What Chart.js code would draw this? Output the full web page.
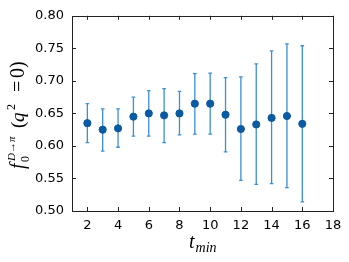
<!DOCTYPE html>
<html>
<head>
<meta charset="utf-8">
<script src="https://cdn.jsdelivr.net/npm/chart.js@4"></script>
<style>
  html, body { margin: 0; padding: 0; background: #fff; }
  #wrap { width: 349px; height: 262px; }
</style>
</head>
<body>
<div id="wrap"><canvas id="chart"></canvas></div>
<script>
// data
var tmin = [2, 3, 4, 5, 6, 7, 8, 9, 10, 11, 12, 13, 14, 15, 16];
var f0 = [0.635, 0.625, 0.627, 0.645, 0.650, 0.647, 0.650, 0.665, 0.665, 0.648, 0.626, 0.633, 0.643, 0.646, 0.634];
var errLow = [0.605, 0.592, 0.598, 0.615, 0.615, 0.605, 0.617, 0.618, 0.618, 0.591, 0.547, 0.541, 0.542, 0.536, 0.514];
var errHigh = [0.665, 0.657, 0.657, 0.675, 0.685, 0.688, 0.684, 0.711, 0.712, 0.705, 0.706, 0.726, 0.746, 0.757, 0.754];
var xTicks = [2, 4, 6, 8, 10, 12, 14, 16, 18];
var yTicks = [0.50, 0.55, 0.60, 0.65, 0.70, 0.75, 0.80];

var points = tmin.map(function (t, i) { return { x: t, y: f0[i] }; });

// error bars, drawn under the dots
var errorBars = {
    id: 'errorBars',
    beforeDatasetsDraw: function (chart) {
        var ctx = chart.ctx;
        var xs = chart.scales.x, ys = chart.scales.y;
        ctx.save();
        ctx.strokeStyle = '#3b8fd4';
        ctx.lineWidth = 1.3;
        for (var i = 0; i < tmin.length; i++) {
            var px = xs.getPixelForValue(tmin[i]);
            var lo = ys.getPixelForValue(errLow[i]);
            var hi = ys.getPixelForValue(errHigh[i]);
            ctx.beginPath();
            ctx.moveTo(px, lo); ctx.lineTo(px, hi);
            ctx.moveTo(px - 1.8, lo); ctx.lineTo(px + 1.8, lo);
            ctx.moveTo(px - 1.8, hi); ctx.lineTo(px + 1.8, hi);
            ctx.stroke();
        }
        ctx.restore();
    }
};

// box, inward ticks on all sides, axis titles
var frame = {
    id: 'frame',
    afterDraw: function (chart) {
        var ctx = chart.ctx;
        var a = chart.chartArea;
        var xs = chart.scales.x, ys = chart.scales.y;
        ctx.save();
        ctx.strokeStyle = '#222';
        ctx.lineWidth = 1;
        ctx.strokeRect(Math.round(a.left) + 0.5, Math.round(a.top) + 0.5,
            Math.round(a.right - a.left), Math.round(a.bottom - a.top));
        ctx.beginPath();
        xs.ticks.forEach(function (t) {
            var px = Math.round(xs.getPixelForValue(t.value)) + 0.5;
            ctx.moveTo(px, a.bottom); ctx.lineTo(px, a.bottom - 4);
            ctx.moveTo(px, a.top); ctx.lineTo(px, a.top + 4);
        });
        ys.ticks.forEach(function (t) {
            var py = Math.round(ys.getPixelForValue(t.value)) + 0.5;
            ctx.moveTo(a.left, py); ctx.lineTo(a.left + 4, py);
            ctx.moveTo(a.right, py); ctx.lineTo(a.right - 4, py);
        });
        ctx.stroke();

        var serif = '"Liberation Serif"';
        // x title: t_min
        ctx.fillStyle = '#000';
        ctx.textBaseline = 'alphabetic';
        ctx.font = 'italic 20px ' + serif;
        var tx = 189, ty = 248;
        ctx.fillText('t', tx, ty);
        var tw = ctx.measureText('t').width;
        ctx.font = 'italic 14px ' + serif;
        ctx.fillText('min', tx + tw + 1, ty + 4);

        // y title: f_0^{D->pi} (q^2 =0)
        ctx.translate(24, 169);
        ctx.rotate(-Math.PI / 2);
        ctx.font = 'italic 20px ' + serif;
        ctx.fillText('f', 0, 0);
        ctx.font = '12px ' + serif;
        ctx.fillText('0', 7, 5);
        ctx.font = 'italic 11px ' + serif;
        ctx.fillText('D\u2192\u03c0', 8, -9);
        ctx.font = '19px ' + serif;
        ctx.fillText('(', 41, 0);
        ctx.font = 'italic 19px ' + serif;
        ctx.fillText('q', 47, 0);
        ctx.font = '12px ' + serif;
        ctx.fillText('2', 59, -9);
        ctx.font = '20px ' + serif;
        ctx.fillText('=', 77, 0);
        ctx.fillText('0', 91, 0);
        ctx.fillText(')', 101, 0);
        ctx.restore();
    }
};

var ctx = document.getElementById('chart');
var chart = new Chart(ctx, {
    type: 'scatter',
    data: {
        datasets: [{
            data: points,
            backgroundColor: '#0b5aa2',
            borderColor: '#0b5aa2',
            pointRadius: 3.6,
            pointHoverRadius: 3.6
        }]
    },
    options: {
        responsive: true,
        maintainAspectRatio: false,
        animation: false,
        events: [],
        layout: { padding: { top: 15, right: 16, left: 0, bottom: 0 } },
        plugins: {
            legend: { display: false },
            tooltip: { enabled: false }
        },
        scales: {
            x: {
                type: 'linear',
                min: 1,
                max: 18,
                afterBuildTicks: function (s) { s.ticks = xTicks.map(function (v) { return { value: v }; }); },
                afterFit: function (s) { s.height = 51; },
                grid: { display: false, drawTicks: false },
                border: { display: false },
                ticks: { color: '#000', padding: 7, font: { family: 'DejaVu Sans', size: 13 } }
            },
            y: {
                min: 0.5,
                max: 0.8,
                afterBuildTicks: function (s) { s.ticks = yTicks.map(function (v) { return { value: v }; }); },
                afterFit: function (s) { s.width = 72; },
                grid: { display: false, drawTicks: false },
                border: { display: false },
                ticks: {
                    color: '#000',
                    padding: 8,
                    font: { family: 'DejaVu Sans', size: 13 },
                    callback: function (v) { return v.toFixed(2); }
                }
            }
        }
    },
    plugins: [errorBars, frame]
});
</script>
</body>
</html>
